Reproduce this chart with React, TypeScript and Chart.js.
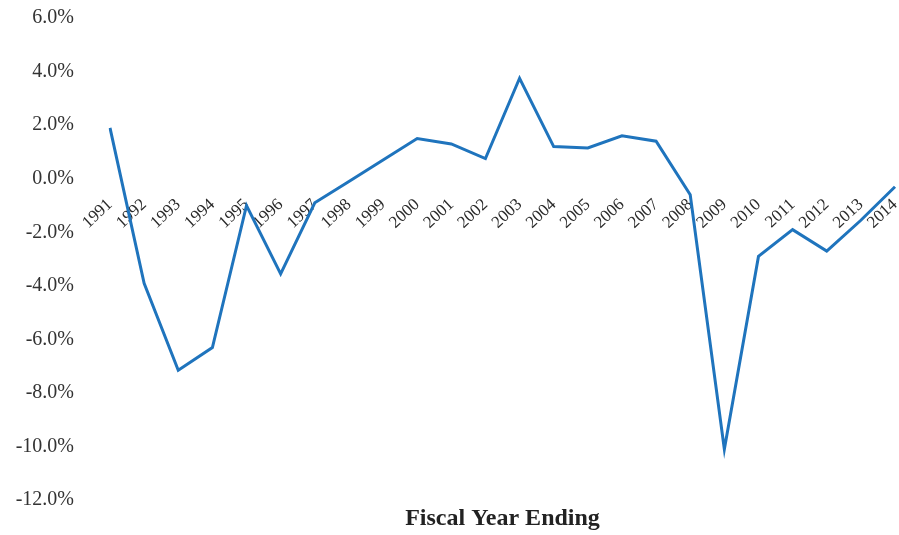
import React, { useEffect, useRef } from "react";
import { Chart, registerables } from "chart.js";

Chart.register(...registerables);

const years: string[] = [
  "1991", "1992", "1993", "1994", "1995", "1996", "1997", "1998",
  "1999", "2000", "2001", "2002", "2003", "2004", "2005", "2006",
  "2007", "2008", "2009", "2010", "2011", "2012", "2013", "2014",
];

const growth: number[] = [
  1.9, -3.9, -7.15, -6.3, -1.0, -3.55, -0.9, -0.1,
  0.7, 1.5, 1.3, 0.75, 3.75, 1.2, 1.15, 1.6,
  1.4, -0.6, -10.1, -2.9, -1.9, -2.7, -1.55, -0.3,
];

const yMin = -12;
const yMax = 6;
const yStep = 2;
const xTitle = "Fiscal Year Ending";

export default function App() {
  const ref = useRef<HTMLCanvasElement | null>(null);

  useEffect(() => {
    if (!ref.current) return;
    const chart = new Chart(ref.current, {
      type: "line",
      data: {
        labels: years,
        datasets: [
          {
            data: growth,
            borderColor: "#1f74bd",
            borderWidth: 3,
            pointRadius: 0,
            tension: 0,
            fill: false,
          },
        ],
      },
      options: {
        animation: false,
        responsive: false,
        layout: { padding: { top: 18, right: 4, left: 0, bottom: 0 } },
        plugins: {
          legend: { display: false },
          tooltip: { enabled: false },
          title: {
            display: true,
            text: xTitle,
            position: "bottom",
            fullSize: false,
            color: "#222",
            font: { family: "Liberation Serif", size: 24, weight: "bold" },
            padding: { top: 4, bottom: 2 },
          },
        },
        scales: {
          x: {
            type: "category",
            position: { y: 0 } as any,
            offset: false,
            grid: { display: false, drawTicks: false },
            border: { display: false },
            afterFit: (scale: any) => {
              scale.paddingLeft = 0;
              scale.paddingRight = 0;
            },
            ticks: {
              autoSkip: false,
              maxRotation: 43,
              minRotation: 43,
              padding: 16,
              color: "#2a2a2a",
              font: { family: "Liberation Serif", size: 17 },
            },
          },
          y: {
            min: yMin,
            max: yMax,
            grid: { display: false, drawTicks: false },
            border: { display: false },
            afterFit: (scale: any) => {
              scale.width = 110;
              scale.paddingTop = 0;
              scale.paddingBottom = 0;
            },
            ticks: {
              stepSize: yStep,
              padding: 36,
              color: "#333",
              font: { family: "Liberation Serif", size: 20 },
              callback: (v: any) => Number(v).toFixed(1) + "%",
            },
          },
        },
      },
    });
    return () => chart.destroy();
  }, []);

  return (
    <div style={{ position: "absolute", left: 0, top: 0, width: 899, height: 535 }}>
      <canvas ref={ref} width={899} height={535} />
    </div>
  );
}
